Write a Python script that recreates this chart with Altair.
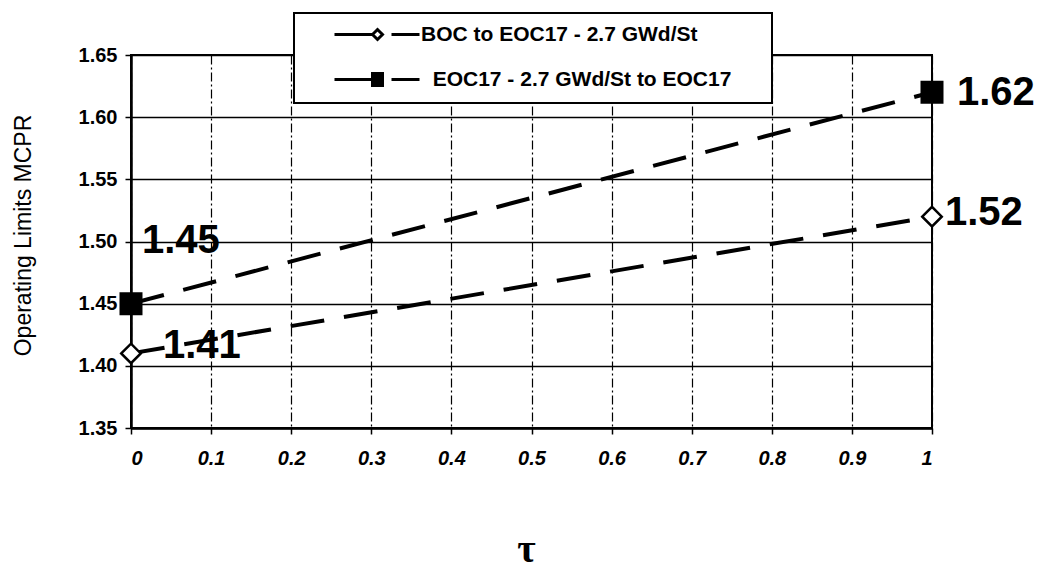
import altair as alt
import pandas as pd

# ---- data ----
series_names = ["BOC to EOC17 - 2.7 GWd/St", "EOC17 - 2.7 GWd/St to EOC17"]
tau = [0.0, 1.0]
boc_mcpr = [1.41, 1.52]
eoc_mcpr = [1.45, 1.62]
x_ticks = [0, 0.1, 0.2, 0.3, 0.4, 0.5, 0.6, 0.7, 0.8, 0.9, 1]
y_ticks = [1.35, 1.40, 1.45, 1.50, 1.55, 1.60, 1.65]

NB = "\u00a0"
ZW = "\u200b"
# legend entry texts (second one is indented / box widened as in the reference)
legend_labels = [series_names[0], ZW + NB * 2 + series_names[1] + NB * 5 + ZW]

rows = []
for name, lab, vals in zip(series_names, legend_labels, [boc_mcpr, eoc_mcpr]):
    for t, v in zip(tau, vals):
        rows.append({"series": name, "legend_label": lab, "tau": t, "mcpr": v})
df = pd.DataFrame(rows)

SANS = "Liberation Sans"

x_enc = alt.X(
    "tau:Q",
    scale=alt.Scale(domain=[0, 1], nice=False),
    axis=alt.Axis(
        values=x_ticks, format=".1~f", title="τ",
        labelFont=SANS, labelFontSize=20, labelFontWeight="bold", labelFontStyle="italic",
        labelColor="black", labelPadding=14, tickSize=6, tickColor="black", tickWidth=1.5,
        domainColor="black", domainWidth=2.5,
        grid=True, gridColor="black", gridWidth=1.2, gridDash=[9, 3, 2, 3],
        titleFont="Liberation Serif", titleFontSize=40, titleFontWeight="bold", titleColor="black",
        titleX=395, titleY=133, titleAlign="center", titleBaseline="alphabetic",
    ),
)
y_enc = alt.Y(
    "mcpr:Q",
    scale=alt.Scale(domain=[1.35, 1.65], nice=False, zero=False),
    axis=alt.Axis(
        values=y_ticks, format=".2f", title="Operating Limits MCPR",
        labelFont=SANS, labelFontSize=20, labelFontWeight="bold", labelColor="black",
        labelPadding=8, tickSize=6, tickColor="black", tickWidth=1.5,
        domainColor="black", domainWidth=2.5,
        grid=True, gridColor="black", gridWidth=1.5,
        titleFont=SANS, titleFontSize=23, titleFontWeight="normal", titleColor="black",
        titleX=-108, titleY=180, titleAngle=270, titleAlign="center", titleBaseline="middle",
    ),
)

# legend symbols: line + marker + dash (custom SVG paths in unit coords, 1 unit = 5 px)
path_a = "M-8.6,0L-1,0M-1,0L0,-1L1,0L0,1ZM2.8,0L8.4,0"
path_b = ("M-8.6,0L1.3,0M-1.3,-1.2L1.3,-1.2M-1.3,-0.6L1.3,-0.6"
          "M-1.3,0.6L1.3,0.6M-1.3,1.2L1.3,1.2M2.8,0L8.4,0")

legend = alt.Legend(
    title=None, orient="none", legendX=163, legendY=-42, direction="vertical",
    padding=11, strokeColor="black", fillColor="white",
    labelFont=SANS, labelFontSize=21, labelFontWeight="bold", labelColor="black",
    labelLimit=600, labelOffset=33, symbolOffset=62, rowPadding=21,
    symbolSize=100, symbolStrokeWidth=3, symbolStrokeColor="black", symbolOpacity=1,
)

base = alt.Chart(df)

lines = base.mark_line(color="black", strokeWidth=4, strokeDash=[34, 20]).encode(
    x=x_enc, y=y_enc, detail="series:N"
)

marker_styles = [("diamond", "white", 380), ("square", "black", 420)]
markers = []
for name, (shape, fill, size) in zip(series_names, marker_styles):
    markers.append(
        base.transform_filter(alt.datum.series == name).mark_point(
            shape=shape, filled=True, fill=fill, stroke="black", strokeWidth=2.5, size=size, opacity=1
        ).encode(x=x_enc, y=y_enc)
    )

# layer with no rows that only carries the legend
legend_layer = base.transform_filter("datum.tau < -1").mark_point(
    filled=False, color="black", strokeWidth=3, opacity=1
).encode(
    x=x_enc,
    y=y_enc,
    shape=alt.Shape("legend_label:N", scale=alt.Scale(domain=legend_labels, range=[path_a, path_b]), legend=legend),
)

# label offsets (style): (series index, tau, dx, dy)
label_offsets = [(0, 0.0, 32, 5), (0, 1.0, 13, 8), (1, 0.0, 11, -51), (1, 1.0, 25, 13)]
texts = []
for si, t, dx, dy in label_offsets:
    texts.append(
        base.transform_filter(
            (alt.datum.series == series_names[si]) & (alt.datum.tau == t)
        ).mark_text(
            align="left", baseline="alphabetic", dx=dx, dy=dy,
            font=SANS, fontSize=40, fontWeight="bold", color="black",
        ).encode(x=x_enc, y=y_enc, text=alt.Text("mcpr:Q", format=".2f"))
    )

layered = alt.layer(lines, *markers, *texts, legend_layer).properties(
    width=801, height=373,
    autosize=alt.AutoSizeParams(type="none"),
    padding={"left": 123, "top": 47, "right": 102, "bottom": 139},
    background="white",
)

try:
    chart = layered.configure_view(stroke="black", strokeWidth=2).configure_legend(strokeWidth=2)
    chart.to_dict()
except Exception:
    chart = layered.configure_view(stroke="black", strokeWidth=2)

chart.save("out.html", embed_options={"renderer": "svg", "actions": False})
